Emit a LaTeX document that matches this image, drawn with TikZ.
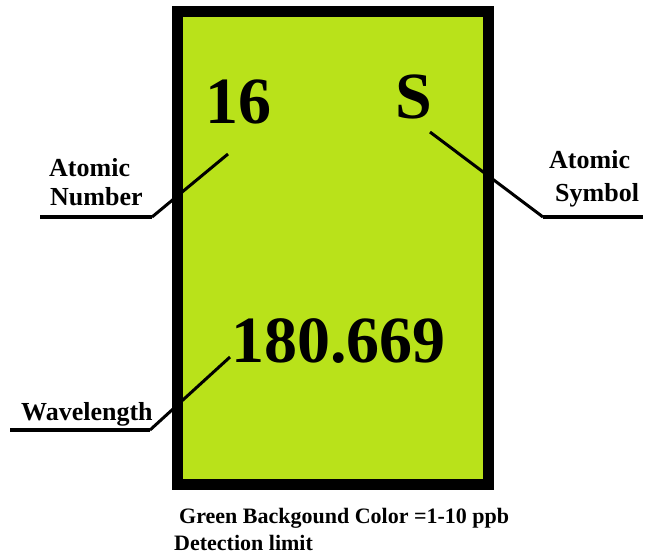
\documentclass[tikz,border=0pt]{standalone}
\usepackage{fontspec}
\setmainfont{Liberation Serif}
\definecolor{cellgreen}{RGB}{185,226,26}
\begin{document}
\begin{tikzpicture}[x=1pt,y=-1pt,
  big/.style={inner sep=0pt,anchor=base west,font=\fontsize{66}{66}\selectfont\bfseries},
  lbl/.style={inner sep=0pt,anchor=base west,font=\fontsize{26}{26}\selectfont\bfseries},
  note/.style={inner sep=0pt,anchor=base west,font=\fontsize{22}{22}\selectfont\bfseries},
  leader/.style={line width=3pt},
  shelf/.style={line width=4pt}]
\useasboundingbox (0,0) rectangle (646,558);
% element cell
\draw[line width=11pt,fill=cellgreen] (177.5,11) rectangle (488.5,484);
% big texts
\node[big] (num) at (205,123) {16};
\node[big] (sym) at (395,118) {S};
\node[big] (wl) at (231,362) {180.669};
% labels
\node[lbl] (an1) at (49,176) {Atomic};
\node[lbl] (an2) at (50,205) {Number};
\node[lbl] (as1) at (549,168) {Atomic};
\node[lbl] (as2) at (555,201) {Symbol};
\node[lbl] (wv) at (21,420) {Wavelength};
\node[note] (g1) at (179,523) {Green Backgound Color =1-10 ppb};
\node[note] (g2) at (174,550) {Detection limit};
% leader coordinates
\coordinate (a0) at (228,154);
\coordinate (a1) at (152,217);
\coordinate (a2) at (40,217);
\coordinate (s0) at (430,132);
\coordinate (s1) at (543,217);
\coordinate (s2) at (643,217);
\coordinate (w0) at (230,357);
\coordinate (w1) at (150,430);
\coordinate (w2) at (10,430);
\draw[leader] (a0) -- (a1);
\draw[shelf] (a1) -- (a2);
\draw[leader] (s0) -- (s1);
\draw[shelf] (s1) -- (s2);
\draw[leader] (w0) -- (w1);
\draw[shelf] (w1) -- (w2);
\end{tikzpicture}
\end{document}
